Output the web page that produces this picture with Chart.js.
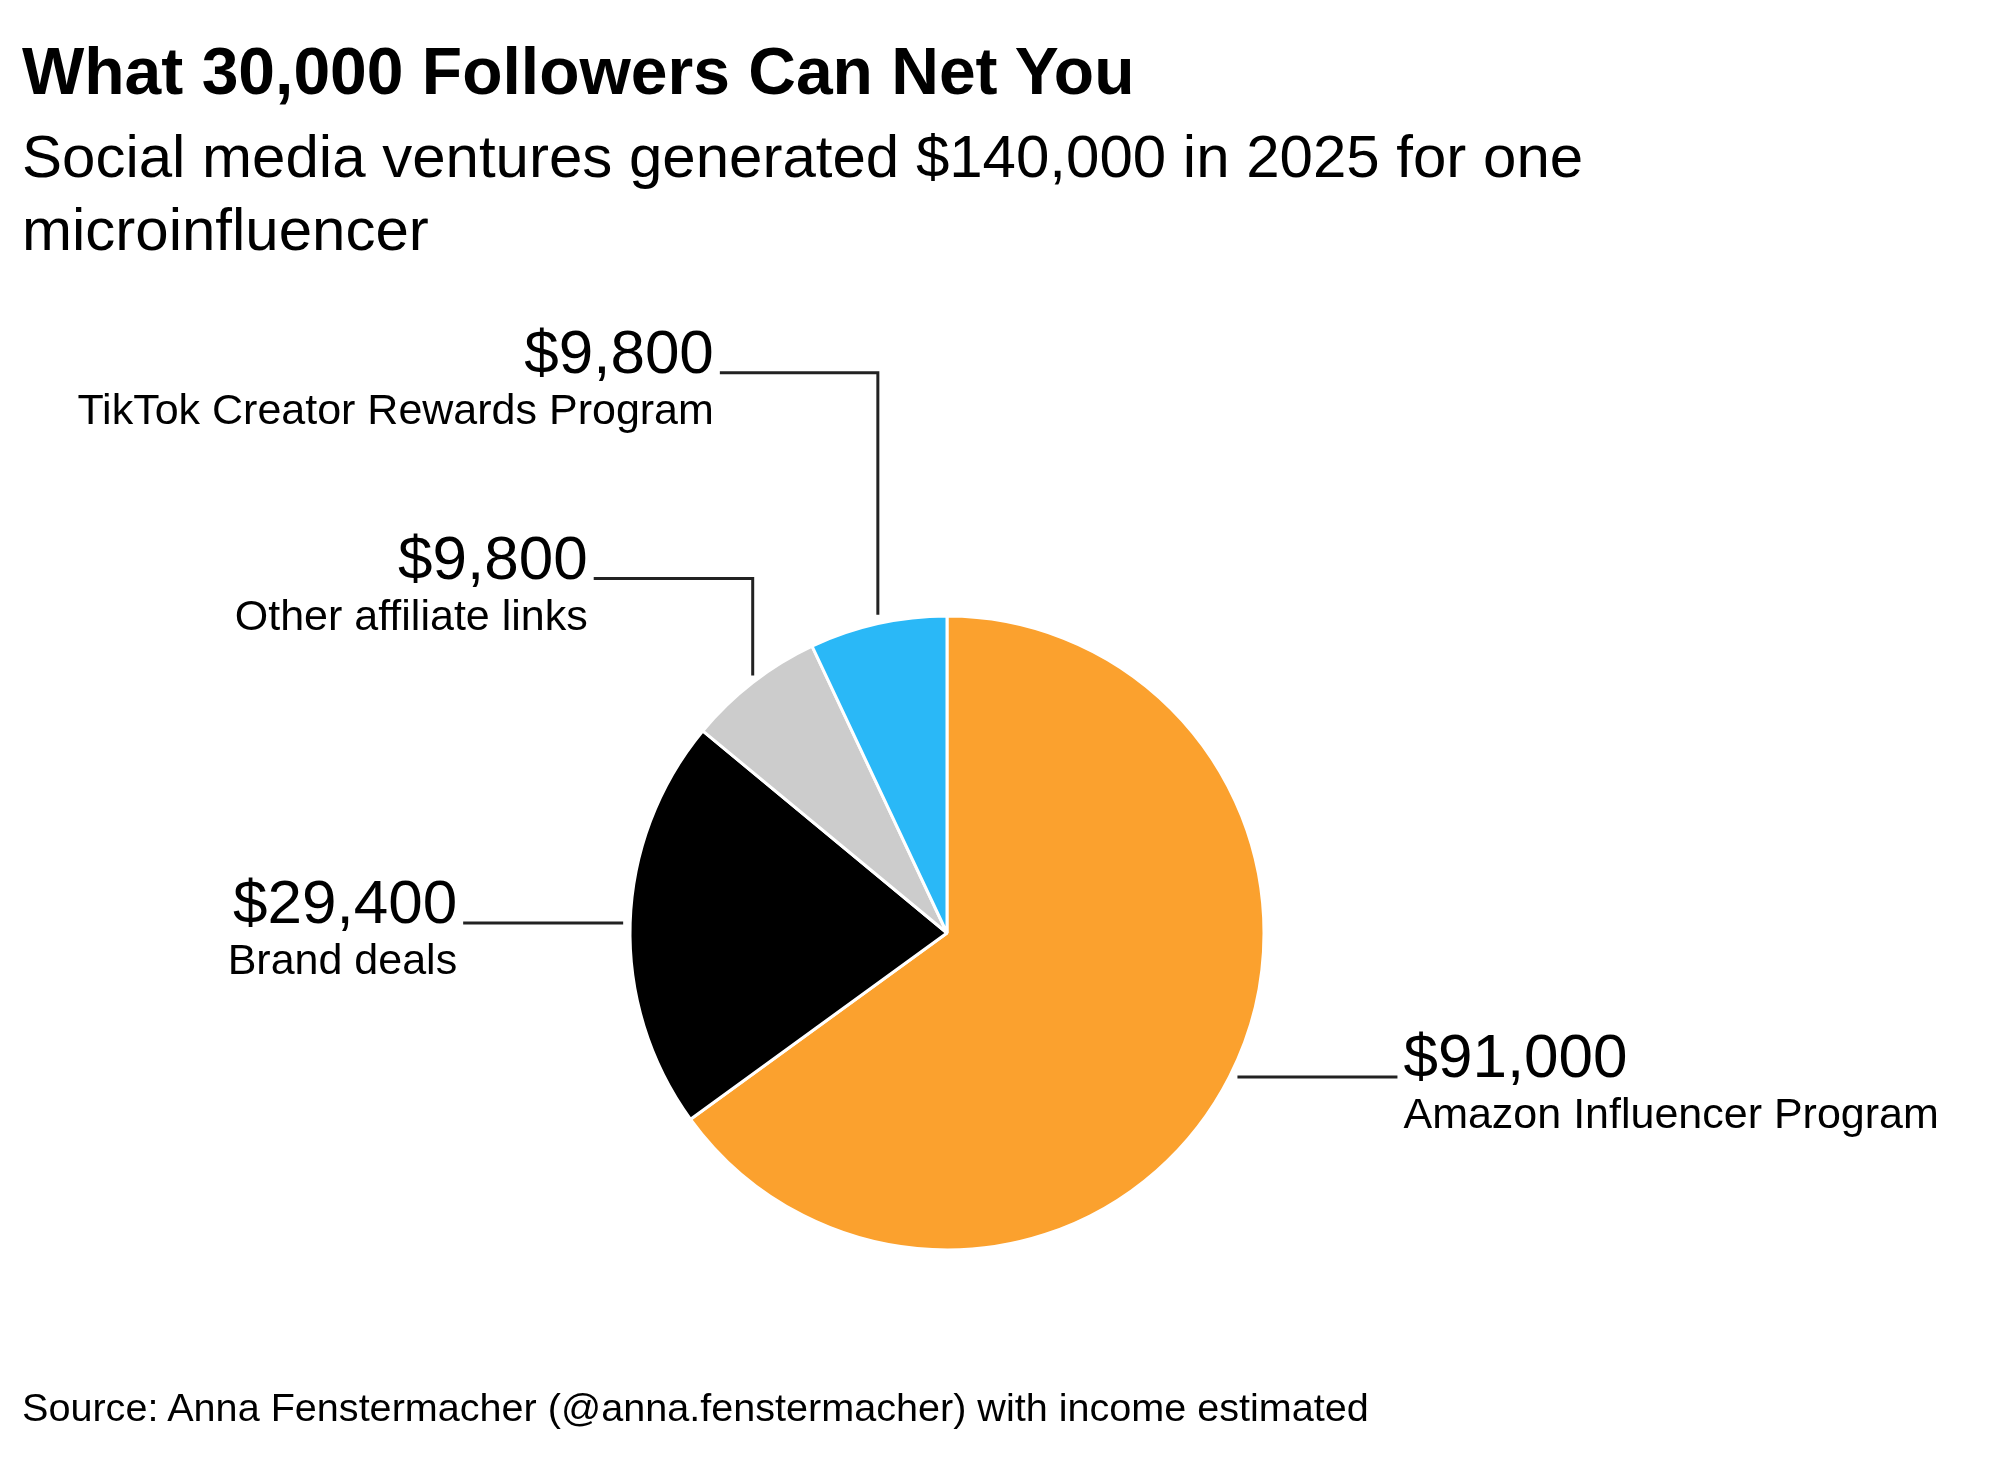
<!DOCTYPE html>
<html>
<head>
<meta charset="utf-8">
<script src="https://cdn.jsdelivr.net/npm/chart.js@4"></script>
<style>
  html, body { margin: 0; padding: 0; background: #ffffff; }
  body { width: 2000px; height: 1467px; position: relative; overflow: hidden; font-family: "Liberation Sans", Arial, sans-serif; color: #000; }
  #wrap { position: absolute; left: 0; top: 0; width: 2000px; height: 1467px; }
  .title { position: absolute; left: 22px; top: 32px; font-size: 66px; line-height: 79px; font-weight: bold; white-space: nowrap; }
  .subtitle { position: absolute; left: 22px; top: 120px; font-size: 60px; line-height: 73px; white-space: nowrap; }
  .source { position: absolute; left: 22px; top: 1383px; font-size: 39.6px; line-height: 48px; white-space: nowrap; }
</style>
</head>
<body>
<div id="wrap"><canvas id="c"></canvas></div>
<div class="title">What 30,000 Followers Can Net You</div>
<div class="subtitle">Social media ventures generated $140,000 in 2025 for one<br>microinfluencer</div>
<div class="source">Source: Anna Fenstermacher (@anna.fenstermacher) with income estimated</div>
<script>
// ---- data ----
const categories = ["Amazon Influencer Program", "Brand deals", "Other affiliate links", "TikTok Creator Rewards Program"];
const values = [91000, 29400, 9800, 9800];
const valueLabels = ["$91,000", "$29,400", "$9,800", "$9,800"];
const colors = ["#FBA12E", "#000000", "#CCCCCC", "#2AB8F7"];

// ---- label layout (style only) ----
const labelLayout = [
  { style: "h", dir: 1, gap: 8, len: 160 },
  { style: "h", dir: -1, gap: 7, len: 160 },
  { style: "v", dir: -1, gap: 7, rise: 97, len: 159 },
  { style: "v", dir: -1, gap: 9, rise: 242, len: 158 }
];

const leaderPlugin = {
  id: "leaders",
  afterDatasetsDraw(chart) {
    const ctx = chart.ctx;
    const arcs = chart.getDatasetMeta(0).data;
    ctx.save();
    arcs.forEach((arc, i) => {
      const L = labelLayout[i];
      const a = (arc.startAngle + arc.endAngle) / 2;
      const r = arc.outerRadius;
      const px = arc.x + r * Math.cos(a);
      const py = arc.y + r * Math.sin(a);
      let endX, endY;
      ctx.strokeStyle = "#222222";
      ctx.lineWidth = 3;
      ctx.beginPath();
      if (L.style === "h") {
        const sx = px + L.dir * L.gap;
        endX = sx + L.dir * L.len;
        endY = py;
        ctx.moveTo(sx, py);
        ctx.lineTo(endX, py);
      } else {
        const sy = py - L.gap;
        endY = sy - L.rise;
        endX = px + L.dir * L.len;
        ctx.moveTo(px, sy);
        ctx.lineTo(px, endY);
        ctx.lineTo(endX, endY);
      }
      ctx.stroke();
      const tx = endX + L.dir * 6;
      ctx.fillStyle = "#000000";
      ctx.textAlign = L.dir > 0 ? "left" : "right";
      ctx.textBaseline = "alphabetic";
      ctx.font = '62px "Liberation Sans", Arial, sans-serif';
      ctx.fillText(valueLabels[i], tx, endY);
      ctx.font = '43px "Liberation Sans", Arial, sans-serif';
      ctx.fillText(categories[i], tx, endY + 51);
    });
    ctx.restore();
  }
};

new Chart(document.getElementById("c"), {
  type: "pie",
  data: {
    labels: categories,
    datasets: [{
      data: values,
      backgroundColor: colors,
      borderColor: "#ffffff",
      borderWidth: 3,
      hoverOffset: 0
    }]
  },
  options: {
    responsive: true,
    maintainAspectRatio: false,
    animation: false,
    events: [],
    layout: { padding: { left: 628.5, right: 734.5, top: 614.5, bottom: 215.5 } },
    plugins: {
      legend: { display: false },
      tooltip: { enabled: false },
      title: { display: false }
    }
  },
  plugins: [leaderPlugin]
});
</script>
</body>
</html>
